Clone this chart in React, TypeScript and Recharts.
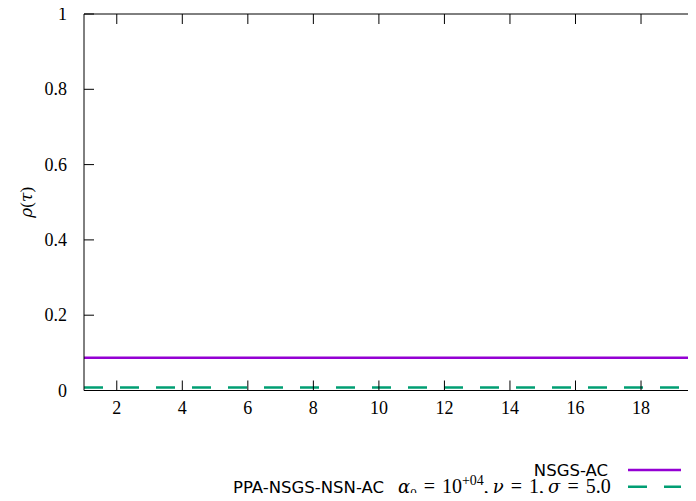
import { LineChart, Line, XAxis, YAxis, Legend, Label } from 'recharts'

// tau values along the profile and rho(tau) for each solver
const taus = [1, 2, 4, 6, 8, 10, 12, 14, 16, 18, 19.8]
const nsgsAc = [0.087, 0.087, 0.087, 0.087, 0.087, 0.087, 0.087, 0.087, 0.087, 0.087, 0.087]
const ppaNsgsNsnAc = [0.008, 0.008, 0.008, 0.008, 0.008, 0.008, 0.008, 0.008, 0.008, 0.008, 0.008]

const xTicks = [2, 4, 6, 8, 10, 12, 14, 16, 18]
const yTicks = [0, 0.2, 0.4, 0.6, 0.8, 1]
const yTickLabels = ['0', '0.2', '0.4', '0.6', '0.8', '1']

const data = taus.map((tau, i) => ({ tau, nsgs: nsgsAc[i], ppa: ppaNsgsNsnAc[i] }))

const PURPLE = '#9400d3'
const GREEN = '#009e73'
const SERIF = { fontFamily: '"Liberation Serif", serif' }
const GREEK = { fontFamily: '"DejaVu Serif", serif', fontStyle: 'italic' }
const SANS = { fontFamily: '"DejaVu Sans", sans-serif' }
const TICK = 10

const bottomTick = (props: any) => {
  const { x, y, payload } = props
  return (
    <g>
      <line x1={x} x2={x} y1={y} y2={y - TICK} stroke='#000' />
      <text x={x} y={y + 23} textAnchor='middle' style={SERIF} fontSize={18} fill='#000'>
        {payload.value}
      </text>
    </g>
  )
}

const topTick = (props: any) => {
  const { x, y } = props
  return <line x1={x} x2={x} y1={y} y2={y + TICK} stroke='#000' />
}

const leftTick = (props: any) => {
  const { x, y, payload, index } = props
  return (
    <g>
      <line x1={x} x2={x + TICK} y1={y} y2={y} stroke='#000' />
      <text x={x - 17} y={y + 6} textAnchor='end' style={SERIF} fontSize={18} fill='#000'>
        {yTickLabels[index] ?? payload.value}
      </text>
    </g>
  )
}

const rightTick = (props: any) => {
  const { x, y } = props
  return <line x1={x} x2={x - TICK} y1={y} y2={y} stroke='#000' />
}

const yLabel = (props: any) => {
  const { viewBox } = props
  const cx = 26
  const cy = viewBox.y + viewBox.height / 2
  return (
    <text
      x={cx}
      y={cy}
      transform={`rotate(-90, ${cx}, ${cy})`}
      textAnchor='middle'
      dominantBaseline='central'
      style={SERIF}
      fontSize={17}
      fill='#000'
    >
      <tspan style={GREEK}>ρ</tspan>
      <tspan>(</tspan>
      <tspan style={GREEK}>τ</tspan>
      <tspan>)</tspan>
    </text>
  )
}

// legend: sans series names, math-style parameters after the second one
const renderLegend = () => (
  <svg width={716} height={46} style={{ display: 'block', overflow: 'visible' }}>
    <text x={608} y={20.5} textAnchor='end' style={SANS} fontSize={16.5} fill='#000'>
      NSGS-AC
    </text>
    <line x1={628} x2={681} y1={15} y2={15} stroke={PURPLE} strokeWidth={2.5} />
    <text x={233} y={38} style={SANS} fontSize={16.5} fill='#000'>
      PPA-NSGS-NSN-AC
    </text>
    <text x={398} y={38} fontSize={20} fill='#000' style={SERIF}>
      <tspan style={GREEK} fontSize={18}>α</tspan>
      <tspan fontSize={13} dy={4}>0</tspan>
      <tspan dx={7} dy={-4}>=</tspan>
      <tspan dx={7}>10</tspan>
      <tspan fontSize={14} dy={-8}>+04</tspan>
      <tspan dy={8}>,</tspan>
      <tspan style={GREEK} fontSize={18} dx={4}>ν</tspan>
      <tspan dx={7}>=</tspan>
      <tspan dx={7}>1,</tspan>
      <tspan style={GREEK} fontSize={18} dx={4}>σ</tspan>
      <tspan dx={7}>=</tspan>
      <tspan dx={7}>5.0</tspan>
    </text>
    <line x1={628} x2={681} y1={31.7} y2={31.7} stroke={GREEN} strokeWidth={2.5} strokeDasharray='19 17' />
  </svg>
)

export default function App() {
  return (
    <div style={{ margin: -8, width: 696, height: 501, overflow: 'hidden', background: '#fff' }}>
      <LineChart width={716} height={501} data={data} margin={{ top: 13, right: 15, bottom: 0, left: 0 }}>
        <XAxis
          dataKey='tau'
          type='number'
          domain={[1, 19.8]}
          ticks={xTicks}
          height={110.5}
          tickSize={0}
          tickMargin={0}
          tickLine={false}
          axisLine={{ stroke: '#000' }}
          tick={bottomTick}
          interval={0}
        />
        <XAxis
          xAxisId='top'
          dataKey='tau'
          type='number'
          orientation='top'
          domain={[1, 19.8]}
          ticks={xTicks}
          height={1}
          tickSize={0}
          tickMargin={0}
          tickLine={false}
          axisLine={{ stroke: '#000' }}
          tick={topTick}
          interval={0}
        />
        <YAxis
          type='number'
          domain={[0, 1]}
          ticks={yTicks}
          width={84}
          tickSize={0}
          tickMargin={0}
          tickLine={false}
          axisLine={{ stroke: '#000' }}
          tick={leftTick}
          interval={0}
        >
          <Label content={yLabel} />
        </YAxis>
        <YAxis
          yAxisId='right'
          type='number'
          orientation='right'
          domain={[0, 1]}
          ticks={yTicks}
          width={1}
          tickSize={0}
          tickMargin={0}
          tickLine={false}
          axisLine={{ stroke: '#000' }}
          tick={rightTick}
          interval={0}
        />
        <Line
          dataKey='nsgs'
          name='NSGS-AC'
          stroke={PURPLE}
          strokeWidth={2.5}
          dot={false}
          isAnimationActive={false}
        />
        <Line
          dataKey='ppa'
          name='PPA-NSGS-NSN-AC'
          stroke={GREEN}
          strokeWidth={2.5}
          strokeDasharray='19 17'
          dot={false}
          isAnimationActive={false}
        />
        <Legend
          layout='horizontal'
          verticalAlign='middle'
          content={renderLegend}
          wrapperStyle={{ top: 455, left: 0, width: 716 }}
        />
      </LineChart>
    </div>
  )
}
